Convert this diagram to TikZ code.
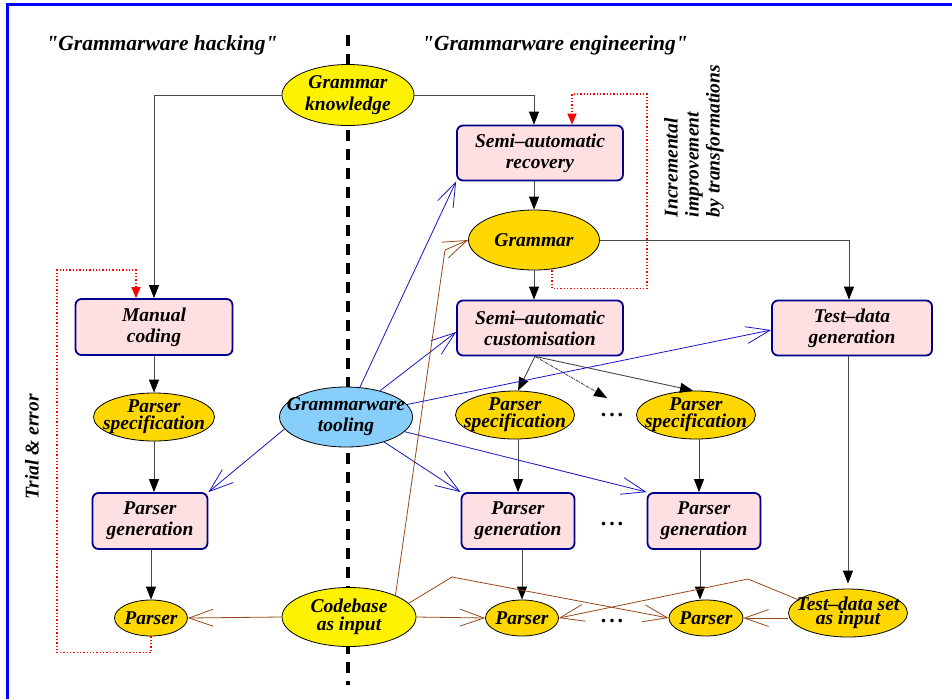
\documentclass[tikz,border=0pt]{standalone}
\usepackage{fontspec}
\setmainfont{Liberation Serif}
\usetikzlibrary{arrows.meta, shapes.geometric, positioning}

\definecolor{taskpink}{RGB}{255,224,226}
\definecolor{tasknavy}{RGB}{0,0,140}
\definecolor{gold}{RGB}{255,215,0}
\definecolor{skyblue}{RGB}{135,206,250}
\definecolor{toolblue}{RGB}{20,20,200}
\definecolor{inputbrown}{RGB}{150,72,25}

\newcommand{\more}{.\hspace{3pt}.\hspace{3pt}.}

\begin{document}
\begin{tikzpicture}[
    x=1pt, y=-1pt,
    every node/.style={font=\fontsize{19.5}{21}\selectfont\bfseries\itshape},
    title/.style={font=\fontsize{21.5}{24}\selectfont\bfseries\itshape},
    task/.style={draw=tasknavy, line width=1.8pt, fill=taskpink, rounded corners=6pt, align=center, inner sep=0pt},
    bubble/.style={ellipse, draw, line width=0.8pt, align=center, inner xsep=-13pt, inner ysep=-1.5pt},
    tight/.style={font=\fontsize{19.5}{17}\selectfont\bfseries\itshape},
    dots/.style={font=\fontsize{22}{22}\selectfont\bfseries},
    flow/.style={-{Triangle[length=13pt,width=10pt,color=black]}, draw=black!72, line width=0.9pt},
    loopback/.style={-{Triangle[length=11pt,width=9pt]}, draw=red, dotted, line width=1.3pt},
    tool/.style={-{Straight Barb[length=24pt,width=17pt]}, draw=toolblue, line width=0.8pt},
    feed/.style={-{Straight Barb[length=24pt,width=17pt]}, draw=inputbrown, line width=0.8pt},
    divider/.style={line width=4.5pt, dash pattern=on 11pt off 8pt}
]
    \useasboundingbox (0,0) rectangle (952,699);

    % Frame and divider
    \draw[blue, line width=3pt] (7,699) -- (7,4) -- (952,4);
    \draw[divider] (348,35) -- (348,685);

    % Titles
    \node[title] (hacking) at (162,45) {\textquotedbl Grammarware hacking\textquotedbl};
    \node[title] (engineering) at (555,45) {\textquotedbl Grammarware engineering\textquotedbl};

    % Engineering side
    \node[bubble, fill=yellow, minimum width=132pt, minimum height=61pt, font=\fontsize{19.5}{22}\selectfont\bfseries\itshape] (knowledge) at (348,95) {Grammar\\knowledge};
    \node[task, minimum width=166pt, minimum height=55pt] (recovery) at (540,153) {Semi--automatic\\recovery};
    \node[bubble, fill=gold, minimum width=131pt, minimum height=60pt] (grammar) at (534,240) {Grammar};
    \node[task, minimum width=166pt, minimum height=55pt] (custom) at (540,328) {Semi--automatic\\customisation};
    \node[task, minimum width=160pt, minimum height=55pt] (testgen) at (852,328) {Test--data\\generation};

    \node[bubble, tight, fill=gold, minimum width=119pt, minimum height=48pt] (specM) at (515,415) {Parser\\specification};
    \node[dots] (dotsA) at (612,415) {\more};
    \node[bubble, tight, fill=gold, minimum width=119pt, minimum height=48pt] (specR) at (696,415) {Parser\\specification};

    \node[task, minimum width=113pt, minimum height=56pt] (genM) at (518,521) {Parser\\generation};
    \node[dots] (dotsB) at (612,524) {\more};
    \node[task, minimum width=113pt, minimum height=56pt] (genR) at (704,521) {Parser\\generation};

    \node[bubble, fill=gold, minimum width=73pt, minimum height=36pt] (parserM) at (522,618) {Parser};
    \node[dots] (dotsC) at (612,621) {\more};
    \node[bubble, fill=gold, minimum width=74pt, minimum height=36pt] (parserR) at (706,618) {Parser};
    \node[bubble, fill=gold, minimum width=119pt, minimum height=48pt, font=\fontsize{19.5}{14}\selectfont\bfseries\itshape] (testset) at (848,613) {Test--data set\\as input};

    % Hacking side
    \node[task, minimum width=157pt, minimum height=56pt] (manual) at (154,327) {Manual\\coding};
    \node[bubble, tight, fill=gold, minimum width=121pt, minimum height=48pt] (specL) at (154,417) {Parser\\specification};
    \node[task, minimum width=115pt, minimum height=56pt] (genL) at (150,521) {Parser\\generation};
    \node[bubble, fill=gold, minimum width=73pt, minimum height=36pt] (parserL) at (151,618) {Parser};

    % Shared nodes on the divider
    \node[bubble, fill=skyblue, minimum width=133pt, minimum height=60pt] (tooling) at (346,417) {Grammarware\\tooling};
    \node[bubble, fill=yellow, minimum width=134pt, minimum height=59pt, font=\fontsize{19.5}{18}\selectfont\bfseries\itshape] (codebase) at (349,617) {Codebase\\as input};

    % Side notes
    \node[rotate=90] (trial) at (32,447) {Trial \& error};
    \node[rotate=90, align=left, font=\fontsize{19.5}{21}\selectfont\bfseries\itshape] (incremental) at (694,141) {Incremental\\improvement\\by transformations};

    % Main flow
    \draw[flow] (knowledge.west) -| (manual.north);
    \draw[flow] (knowledge.east) -| (grammar.north |- recovery.north);
    \draw[flow] (grammar.north |- recovery.south) -- (grammar.north);
    \draw[flow] (grammar.south) -- (grammar.south |- custom.north);
    \draw[flow] (grammar.east) -| ([xshift=-3pt]testgen.north);
    \draw[flow] (manual.south -| specL.north) -- (specL.north);
    \draw[flow] (specL.south) -- (specL.south |- genL.north);
    \draw[flow] (genL.south -| parserL.north) -- (parserL.north);

    \coordinate (fan) at ([xshift=-5pt]custom.south);
    \draw[flow] (fan) -- ([xshift=3pt]specM.north);
    \draw[flow, densely dashdotted] (fan) -- ([xshift=-5pt,yshift=17pt]dotsA.center);
    \draw[flow] (fan) -- ([xshift=-3pt]specR.north);
    \draw[flow] (genM.north |- specM.south) -- (genM.north);
    \draw[flow] ([xshift=3pt]specR.south) -- ([xshift=3pt]specR.south |- genR.north);
    \draw[flow] (genM.south -| parserM.north) -- (parserM.north);
    \draw[flow] ([xshift=-4pt]genR.south) -- ([xshift=-4pt]genR.south |- parserR.north);
    \draw[flow, shorten >=5pt] (testgen.south -| testset.north) -- (testset.north);

    % Feedback loops
    \coordinate (trialcorner) at (57,270);
    \draw[loopback] (parserL.south) -- ++(0,16) -| (trialcorner) -| ([xshift=-18pt]manual.north);
    \coordinate (improvecorner) at (647,94);
    \draw[loopback] ([xshift=18pt]grammar.south) -- ++(0,18) -| (improvecorner) -| ([xshift=32pt]recovery.north);

    % Tool support
    \draw[tool] (tooling) -- (recovery.south west);
    \draw[tool] (tooling) -- ([yshift=-4pt]custom.west);
    \draw[tool] (tooling) -- ([yshift=-2pt]testgen.west);
    \draw[tool] (tooling.191) -- (genL.north east);
    \draw[tool] (tooling) -- (genM.north west);
    \draw[tool] (tooling) -- (genR.north west);

    % Inputs
    \coordinate (bendG) at (445,250);
    \coordinate (bendR) at (452,577);
    \coordinate (bendM) at (748,579);
    \draw[feed] (codebase.25) -- (bendG) -- (grammar.west);
    \draw[feed] (codebase.west) -- (parserL.east);
    \draw[feed] (codebase.east) -- (parserM.west);
    \draw[feed] (codebase.13) -- (bendR) -- (parserR.west);
    \draw[feed] (testset.west |- parserR.east) -- (parserR.east);
    \draw[feed] (testset.165) -- (bendM) -- (parserM.east);
\end{tikzpicture}
\end{document}
